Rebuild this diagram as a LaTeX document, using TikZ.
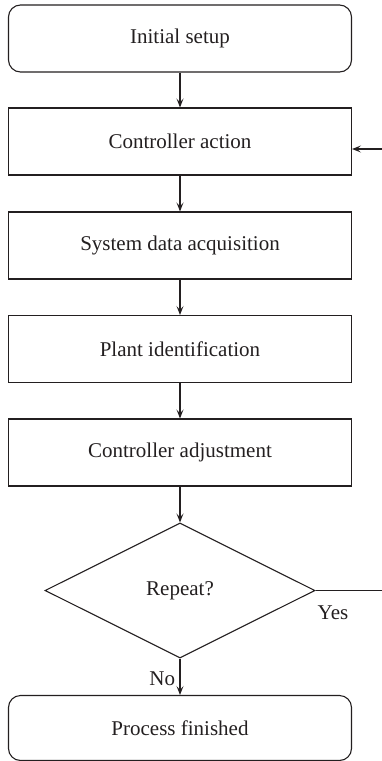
\documentclass[tikz,border=0pt]{standalone}
\usepackage{fontspec}
\setmainfont{Liberation Serif}
\newfontfamily\labelfont{Liberation Serif}
\usetikzlibrary{shapes.geometric,arrows.meta}
\definecolor{ink}{HTML}{231F20}
\begin{document}
\begin{tikzpicture}[x=1pt,y=-1pt,
  every node/.style={text=ink,font=\labelfont\fontsize{21}{25}\selectfont},
  stepbox/.style={draw=ink,line width=1.1pt,rectangle,minimum width=343pt,minimum height=67pt,inner sep=0pt},
  termbox/.style={stepbox,rounded corners=12pt},
  decision/.style={draw=ink,line width=1.1pt,diamond,minimum width=270pt,minimum height=135pt,inner sep=0pt},
  flow/.style={draw=ink,line width=1.1pt,-{Stealth[length=9pt,width=7pt,inset=4pt]}},
  wire/.style={draw=ink,line width=1.1pt}]
\useasboundingbox (0,0) rectangle (382,761);

\node[termbox] (init) at (180,38.5) {Initial setup};
\node[stepbox] (ctrl) at (180,141.5) {Controller action};
\node[stepbox] (sys) at (180,245.5) {System data acquisition};
\node[stepbox] (plant) at (180,349) {Plant identification};
\node[stepbox] (adj) at (180,452.5) {Controller adjustment};
\node[decision] (rep) at (180,590.5) {Repeat?};
\node[termbox,minimum height=65pt] (fin) at (180,728) {Process finished};

\coordinate (yesend) at (382,590.5);
\coordinate (backin) at (382,149);

\draw[flow] (init) -- (ctrl);
\draw[flow] (ctrl) -- (sys);
\draw[flow] (sys) -- (plant);
\draw[flow] (plant) -- (adj);
\draw[flow] (adj) -- (rep);
\draw[flow] (rep) -- node[left=1pt,pos=0.55] (no) {No} (fin);
\draw[wire] (rep.east) -- (yesend);
\node (yes) at (333,613) {Yes};
\draw[flow] (backin) -- (backin -| ctrl.east);
\end{tikzpicture}
\end{document}
